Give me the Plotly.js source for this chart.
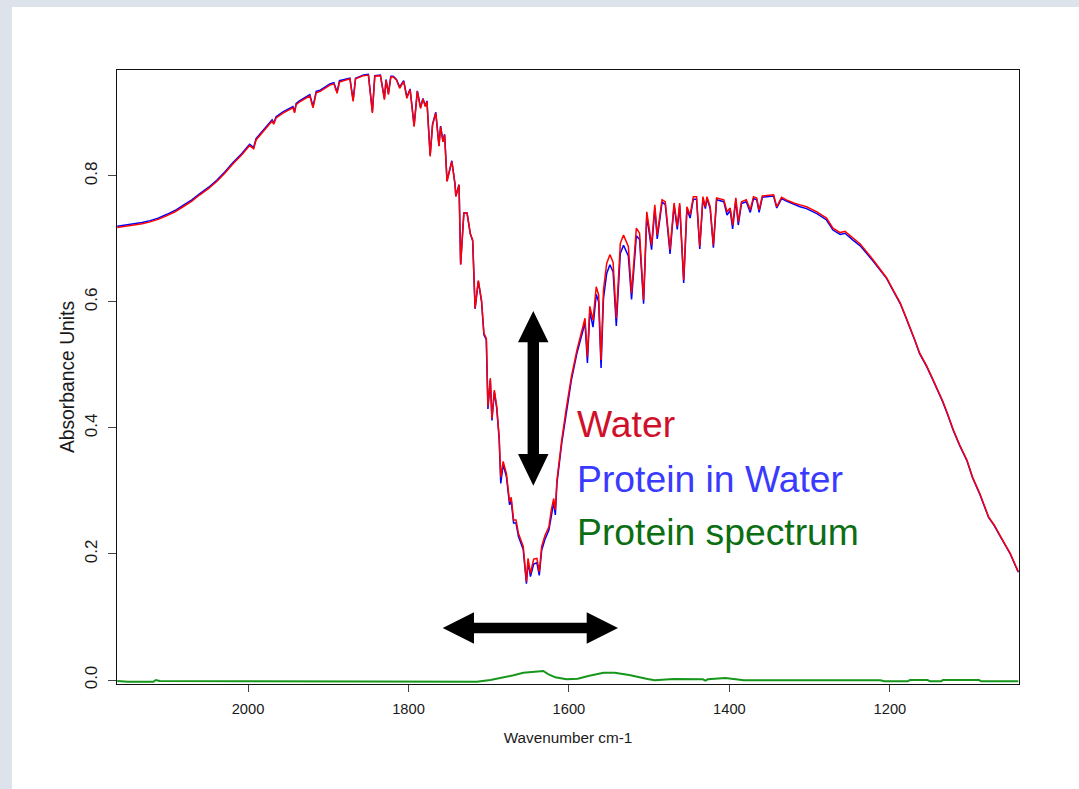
<!DOCTYPE html>
<html><head><meta charset="utf-8">
<script src="https://cdn.plot.ly/plotly-3.0.1.min.js"></script>
<style>
html,body{margin:0;padding:0;background:#dce3ea;width:1079px;height:789px;overflow:hidden;}
#chart{position:absolute;left:12px;top:7px;width:1067px;height:782px;background:#fff;}
</style></head><body><div id="chart"></div>
<script>
// Wavenumber (cm-1) shared by the two absorbance spectra
const wavenumber = [2163,2153,2143,2132,2122,2112,2101,2091,2081,2070,2060,2049,2039,2029,2019,2008,1998,1993,1990,1976,1970,1968,1965,1956,1944,1942,1940,1935,
1923,1919,1915,1910,1898,1893,1889,1886,1881,1873,1869,1866,1856,1850,1845,1842,1835,1830,1828,1825,
1822,1819,1815,1811,1806,1802,1798,1793,1789,1785,1782,1779,1777,1773,1770,1766,1762,1760,1757,1755,
1752,1746,1742,1741,1737,1735,1731,1727,1723,1720,1717,1713,1709,1706,1703,1701,1698,1696,1693,1690,
1687,1685,1682,1678,1674,1672,1669,1666,1663,1659,1657,1653,1651,1648,1644,1640,1637,1634,1630,1625,
1622,1619,1617,1615,1609,1603,1597,1590,1584,1580,1577,1574,1570,1566,1563,1560,1557,1553,1549,1545,
1541,1536,1532,1526,1522,1516,1512,1507,1503,1497,1493,1490,1484,1480,1474,1469,1465,1462,1457,1453,
1449,1445,1441,1437,1433,1430,1428,1424,1420,1416,1407,1403,1399,1396,1392,1389,1385,1379,1374,1370,
1366,1363,1359,1345,1341,1335,1329,1320,1312,1304,1291,1279,1271,1262,1256,1246,1237,1221,1212,1204,1196,1187,
1181,1175,1169,1163,1154,1146,1140,1134,1128,1121,1113,1104,1097,1088,1077,1070,1063,1057,1050,1040];

const water = [0.718,0.720,0.721,0.724,0.727,0.731,0.737,0.743,0.751,0.760,0.770,0.780,0.791,0.804,0.819,0.833,0.848,0.843,0.857,0.878,0.887,0.882,0.892,0.900,0.908,0.900,0.913,0.918,
0.927,0.908,0.932,0.934,0.944,0.946,0.931,0.949,0.951,0.954,0.918,0.954,0.959,0.960,0.900,0.958,0.959,0.921,0.952,0.929,
0.957,0.957,0.952,0.939,0.950,0.923,0.937,0.878,0.934,0.907,0.922,0.910,0.918,0.831,0.881,0.900,0.847,0.878,0.854,0.865,
0.791,0.823,0.786,0.767,0.786,0.659,0.741,0.741,0.709,0.698,0.590,0.634,0.603,0.550,0.542,0.434,0.479,0.415,0.460,0.434,
0.386,0.322,0.347,0.328,0.283,0.290,0.254,0.254,0.233,0.217,0.212,0.156,0.193,0.169,0.192,0.193,0.172,0.212,0.229,0.243,
0.270,0.288,0.270,0.317,0.381,0.434,0.481,0.524,0.556,0.574,0.513,0.593,0.571,0.624,0.611,0.508,0.619,0.661,0.675,0.663,
0.574,0.693,0.706,0.688,0.614,0.717,0.709,0.603,0.743,0.690,0.754,0.706,0.762,0.759,0.683,0.757,0.720,0.757,0.635,0.751,
0.738,0.767,0.767,0.688,0.767,0.751,0.767,0.751,0.690,0.765,0.762,0.743,0.749,0.722,0.765,0.727,0.759,0.762,0.746,0.767,
0.765,0.746,0.768,0.770,0.751,0.766,0.762,0.757,0.754,0.751,0.743,0.733,0.717,0.710,0.712,0.701,0.692,0.667,0.652,0.638,0.619,0.598,
0.579,0.561,0.540,0.519,0.498,0.476,0.459,0.442,0.422,0.397,0.373,0.349,0.322,0.296,0.259,0.246,0.230,0.216,0.201,0.172];

const proteinInWater = [0.720,0.722,0.723,0.726,0.729,0.733,0.739,0.745,0.753,0.762,0.772,0.782,0.793,0.806,0.821,0.835,0.850,0.845,0.859,0.880,0.889,0.884,0.894,0.902,0.910,0.902,0.915,0.920,
0.929,0.910,0.934,0.936,0.946,0.948,0.933,0.951,0.953,0.955,0.920,0.955,0.960,0.961,0.902,0.959,0.960,0.923,0.953,0.931,
0.958,0.958,0.953,0.941,0.951,0.925,0.938,0.880,0.935,0.909,0.923,0.911,0.919,0.833,0.882,0.901,0.848,0.879,0.855,0.866,
0.792,0.824,0.787,0.768,0.786,0.660,0.741,0.741,0.708,0.697,0.589,0.633,0.601,0.548,0.540,0.430,0.476,0.412,0.457,0.431,
0.382,0.312,0.342,0.323,0.278,0.285,0.249,0.249,0.228,0.212,0.207,0.153,0.188,0.164,0.184,0.186,0.166,0.206,0.223,0.238,
0.264,0.282,0.262,0.312,0.376,0.429,0.476,0.519,0.550,0.567,0.503,0.585,0.560,0.612,0.600,0.495,0.605,0.645,0.659,0.648,
0.562,0.677,0.690,0.673,0.604,0.705,0.699,0.597,0.737,0.683,0.749,0.700,0.758,0.755,0.676,0.753,0.715,0.753,0.630,0.747,
0.733,0.763,0.763,0.684,0.764,0.748,0.764,0.748,0.686,0.762,0.759,0.738,0.745,0.716,0.762,0.722,0.756,0.759,0.742,0.764,
0.762,0.742,0.766,0.768,0.749,0.764,0.760,0.755,0.751,0.748,0.740,0.730,0.714,0.707,0.709,0.698,0.689,0.665,0.651,0.637,0.618,0.597,
0.578,0.560,0.539,0.518,0.497,0.475,0.458,0.441,0.421,0.396,0.372,0.348,0.321,0.295,0.258,0.245,0.229,0.215,0.200,0.171];

// Difference (protein) spectrum
const proteinWavenumber = [2163,2150,2118,2115,2110,1811,1715,1698,1686,1669,1657,1644,1632,1626,1617,1603,1589,1576,1557,1543,
1525,1502,1493,1470,1433,1430,1427,1405,1393,1382,1212,1207,1178,1175,1153,1150,1136,1134,1089,1086,1040];
const proteinSpectrum = [-0.0016,-0.0027,-0.0027,0.0000,-0.0016,-0.0016,-0.0027,0.0000,0.0027,0.0075,0.0116,0.0132,0.0143,0.0095,0.0043,0.0011,0.0021,0.0063,0.0116,0.0116,
0.0079,0.0016,-0.0005,0.0016,0.0011,-0.0008,0.0011,0.0032,0.0008,-0.0005,-0.0005,-0.0020,-0.0020,0.0000,0.0000,-0.0020,-0.0020,0.0000,0.0000,-0.0020,-0.0020];

const xTicks = [2000, 1800, 1600, 1400, 1200];
const yTicks = [0, 0.2, 0.4, 0.6, 0.8];
const yTickLabels = ['0.0', '0.2', '0.4', '0.6', '0.8'];
const seriesNames = ['Water', 'Protein in Water', 'Protein spectrum'];
const seriesColors = ['#ff0000', '#0000ff', '#16961a'];
const labelColors = ['#d0102b', '#3a3aff', '#0b6e12'];

const FONT = 'Liberation Sans, Arial, sans-serif';

// plot area in page pixels (for decorations only)
const PL = 117, PR = 1019, PT = 70, PB = 684;
const P = (px, py) => [((px - PL) / (PR - PL)).toFixed(5), ((PB - py) / (PB - PT)).toFixed(5)];
const pathOf = pts => 'M ' + pts.map(p => P(p[0], p[1]).join(',')).join(' L ') + ' Z';

const vArrow = pathOf([[533.3,311],[548.5,342.3],[539,342.3],[539,454],[548.5,454],[533.3,485.7],
  [518,454],[527.6,454],[527.6,342.3],[518,342.3]]);
const hArrow = pathOf([[442.7,628],[474,612.3],[474,622.7],[586.7,622.7],[586.7,612.3],[618,628],
  [586.7,643.7],[586.7,633.3],[474,633.3],[474,643.7]]);

const traces = [
  {x: proteinWavenumber, y: proteinSpectrum, type: 'scatter', mode: 'lines', name: seriesNames[2],
   line: {color: seriesColors[2], width: 2}},
  {x: wavenumber, y: proteinInWater, type: 'scatter', mode: 'lines', name: seriesNames[1],
   line: {color: seriesColors[1], width: 1.5}},
  {x: wavenumber, y: water, type: 'scatter', mode: 'lines', name: seriesNames[0],
   line: {color: seriesColors[0], width: 1.5}}
];

const labelY = [424, 479, 532];
const annotations = seriesNames.map((n, i) => ({
  xref: 'paper', yref: 'paper', x: +P(575, 0)[0], y: +P(0, labelY[i])[1],
  xanchor: 'left', yanchor: 'middle', showarrow: false, text: n,
  font: {family: FONT, size: 37.3, color: labelColors[i]}
}));

const layout = {
  width: 1067, height: 782,
  margin: {l: 105, r: 60, t: 63, b: 105, pad: 0},
  paper_bgcolor: '#ffffff', plot_bgcolor: '#ffffff',
  showlegend: false,
  font: {family: FONT, color: '#1a1a1a'},
  xaxis: {
    range: [2163.3, 1039.1], autorange: false,
    tickvals: xTicks, ticktext: xTicks.map(String),
    ticks: 'outside', ticklen: 7, tickwidth: 1, tickcolor: '#444',
    showline: true, linecolor: '#111', linewidth: 1, mirror: true,
    showgrid: false, zeroline: false,
    tickfont: {family: FONT, size: 14.7, color: '#1a1a1a'},
    ticklabelstandoff: 4,
    title: {text: 'Wavenumber cm-1', font: {family: FONT, size: 15.3, color: '#1a1a1a'}, standoff: 16}
  },
  yaxis: {
    range: [-0.0063, 0.968], autorange: false,
    tickvals: yTicks, ticktext: yTickLabels, tickangle: -90,
    ticks: 'outside', ticklen: 8, tickwidth: 1, tickcolor: '#444',
    showline: true, linecolor: '#111', linewidth: 1, mirror: true,
    showgrid: false, zeroline: false,
    tickfont: {family: FONT, size: 17, color: '#1a1a1a'},
    ticklabelstandoff: 4,
    title: {text: 'Absorbance Units', font: {family: FONT, size: 19.3, color: '#1a1a1a'}, standoff: 2}
  },
  shapes: [
    {type: 'path', xref: 'paper', yref: 'paper', path: vArrow, fillcolor: '#000', line: {width: 0}},
    {type: 'path', xref: 'paper', yref: 'paper', path: hArrow, fillcolor: '#000', line: {width: 0}}
  ],
  annotations: annotations
};

Plotly.newPlot('chart', traces, layout, {displayModeBar: false, staticPlot: true});
</script></body></html>
